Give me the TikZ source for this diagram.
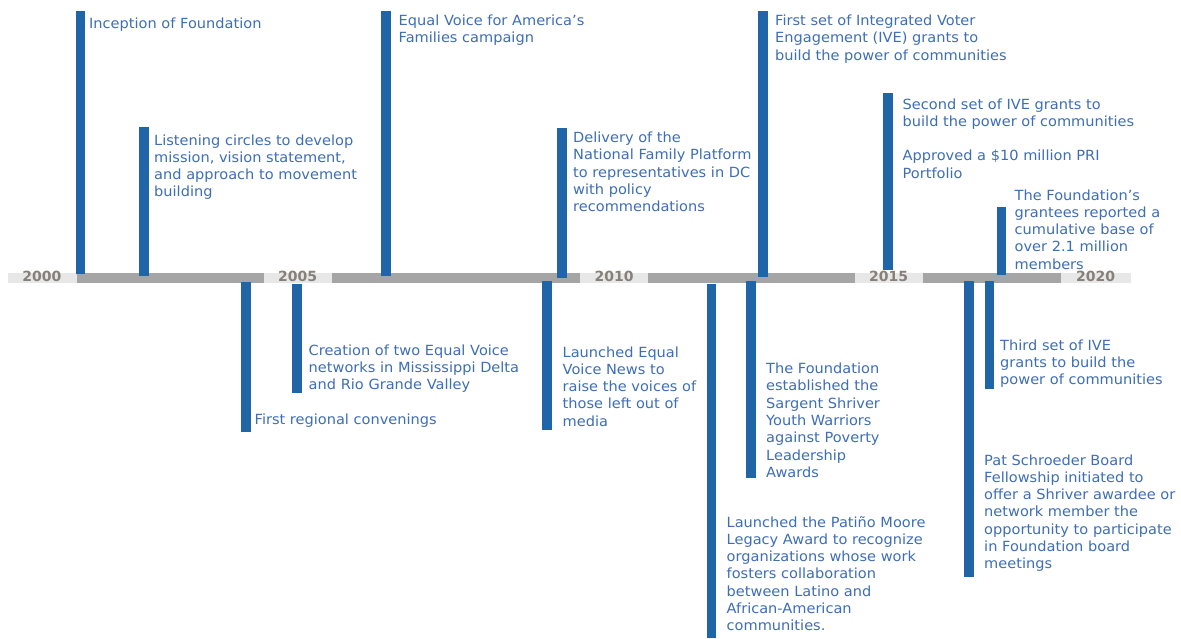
\documentclass[tikz,border=0pt]{standalone}
\usepackage{fontspec}
\setmainfont{DejaVu Sans}
\newfontfamily\evfont[FakeStretch=1.04]{DejaVu Sans}
\definecolor{barblue}{HTML}{1F65A8}
\definecolor{txtblue}{HTML}{3E6EB5}
\definecolor{axdark}{HTML}{A5A5A5}
\definecolor{axlight}{HTML}{E7E7E7}
\definecolor{yeargray}{HTML}{868079}
\begin{document}
\begin{tikzpicture}[x=1pt,y=-1pt,
  evtext/.style={anchor=base west, inner sep=0pt, text width=300pt, align=left,
    font=\evfont\fontsize{14}{17.3}\selectfont, text=txtblue},
  evbar/.style={fill=barblue, draw=none},
  yearlbl/.style={anchor=base, inner sep=0pt, font=\bfseries\fontsize{14}{16}\selectfont, text=yeargray},
  axl/.style={fill=axlight, draw=none},
  axd/.style={fill=axdark, draw=none}]
\useasboundingbox (0,0) rectangle (1181,638);
\fill[white] (0,0) rectangle (1181,638);

% axis
\fill[axl] (8,273) rectangle (77,283);
\fill[axd] (77,273) rectangle (264,283);
\fill[axl] (264,273) rectangle (332,283);
\fill[axd] (332,273) rectangle (580,283);
\fill[axl] (580,273) rectangle (648,283);
\fill[axd] (648,273) rectangle (855,283);
\fill[axl] (855,273) rectangle (923,283);
\fill[axd] (923,273) rectangle (1061,283);
\fill[axl] (1061,273) rectangle (1131,283);

\node[yearlbl] (y2000) at (41.8,281.7) {2000};
\node[yearlbl] (y2005) at (297.5,281.7) {2005};
\node[yearlbl] (y2010) at (614,281.7) {2010};
\node[yearlbl] (y2015) at (888.5,281.7) {2015};
\node[yearlbl] (y2020) at (1095.5,281.7) {2020};

% bars above
\fill[evbar] (75.5,10.5) rectangle (85,274);
\fill[evbar] (139,127) rectangle (148.5,276);
\fill[evbar] (381,10.5) rectangle (390.5,275.5);
\fill[evbar] (557,128) rectangle (566.5,278);
\fill[evbar] (758,11) rectangle (767.5,277);
\fill[evbar] (883,93) rectangle (892.5,269.5);
\fill[evbar] (996.5,207) rectangle (1006,275);
% bars below
\fill[evbar] (241,282) rectangle (250.5,432);
\fill[evbar] (292,284) rectangle (301.5,392.5);
\fill[evbar] (542,281) rectangle (551.5,430);
\fill[evbar] (706.5,284) rectangle (716,638);
\fill[evbar] (746,281) rectangle (755.5,477.5);
\fill[evbar] (964,281) rectangle (973.5,577);
\fill[evbar] (984.5,281) rectangle (994,389);

% texts above
\node[evtext] (e1) at (89,28) {Inception of Foundation};
\node[evtext] (e2) at (154,145) {Listening circles to develop\\mission, vision statement,\\and approach to movement\\building};
\node[evtext] (e3) at (398.5,25) {Equal Voice for America’s\\Families campaign};
\node[evtext] (e4) at (573,142.5) {Delivery of the\\National Family Platform\\to representatives in DC\\with policy\\recommendations};
\node[evtext] (e5) at (775,25.5) {First set of Integrated Voter\\Engagement (IVE) grants to\\build the power of communities};
\node[evtext] (e6) at (902.5,109) {Second set of IVE grants to\\build the power of communities\\[17.3pt]Approved a \$10 million PRI\\Portfolio};
\node[evtext] (e7) at (1014.5,200) {The Foundation’s\\grantees reported a\\cumulative base of\\over 2.1 million\\members};
% texts below
\node[evtext] (e8) at (254.5,424) {First regional convenings};
\node[evtext] (e9) at (308.5,355) {Creation of two Equal Voice\\networks in Mississippi Delta\\and Rio Grande Valley};
\node[evtext] (e10) at (562.5,357) {Launched Equal\\Voice News to\\raise the voices of\\those left out of\\media};
\node[evtext] (e11) at (726.5,527) {Launched the Patiño Moore\\Legacy Award to recognize\\organizations whose work\\fosters collaboration\\between Latino and\\African-American\\communities.};
\node[evtext] (e12) at (766,373.5) {The Foundation\\established the\\Sargent Shriver\\Youth Warriors\\against Poverty\\Leadership\\Awards};
\node[evtext] (e13) at (984,465) {Pat Schroeder Board\\Fellowship initiated to\\offer a Shriver awardee or\\network member the\\opportunity to participate\\in Foundation board\\meetings};
\node[evtext] (e14) at (1000,350) {Third set of IVE\\grants to build the\\power of communities};
\end{tikzpicture}
\end{document}
